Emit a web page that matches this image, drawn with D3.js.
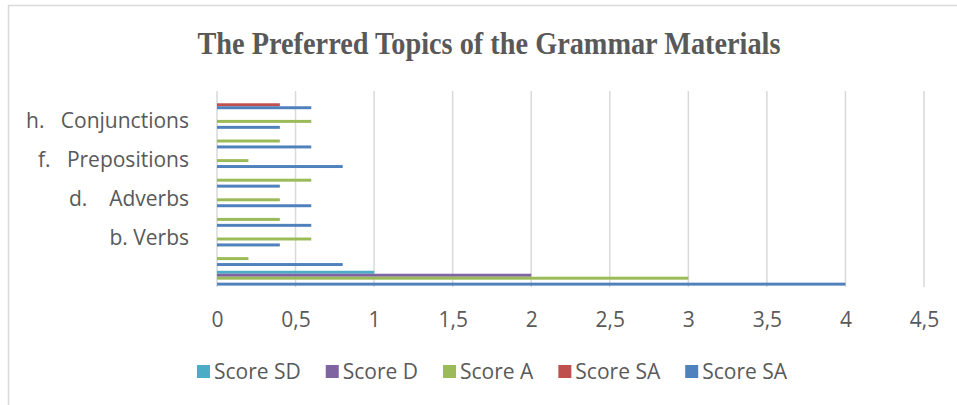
<!DOCTYPE html>
<html>
<head>
<meta charset="utf-8">
<script src="https://cdn.jsdelivr.net/npm/d3@7"></script>
<style>
  html, body { margin: 0; padding: 0; background: #fff; }
  svg { display: block; }
  text { font-family: "Open Sans", sans-serif; fill: #595959; }
</style>
</head>
<body>
<div id="chart"></div>
<script>
// categories bottom -> top (Excel only shows every other label)
const CATEGORIES = ["", "a. Nouns", "b. Verbs", "c. Adjectives", "d.    Adverbs", "e. Pronouns",
                    "f.   Prepositions", "g. Articles", "h.   Conjunctions", "i. Interjections"];
const SERIES = ["SD", "D", "A", "SA1", "SA2"];
const SERIES_LABELS = ["Score SD", "Score D", "Score A", "Score SA", "Score SA"];
const SERIES_COLORS = ["#4BACC6", "#8064A2", "#9BBB59", "#C0504D", "#4F81BD"];

const scoreSD  = [1, 0, 0, 0, 0, 0, 0, 0, 0, 0];
const scoreD   = [2, 0, 0, 0, 0, 0, 0, 0, 0, 0];
const scoreA   = [3, 0.2, 0.6, 0.4, 0.4, 0.6, 0.2, 0.4, 0.6, 0];
const scoreSA1 = [0, 0, 0, 0, 0, 0, 0, 0, 0, 0.4];
const scoreSA2 = [4, 0.8, 0.4, 0.6, 0.6, 0.4, 0.8, 0.6, 0.4, 0.6];

const X_TICKS = [0, 0.5, 1, 1.5, 2, 2.5, 3, 3.5, 4, 4.5];
const TITLE = "The Preferred Topics of the Grammar Materials";

const values = { SD: scoreSD, D: scoreD, A: scoreA, SA1: scoreSA1, SA2: scoreSA2 };
const rows = CATEGORIES.map((c, i) => ({ category: c, idx: i, ...Object.fromEntries(SERIES.map(s => [s, values[s][i]])) }));

const width = 957, height = 405;
const FS = "21px";
const svg = d3.select("#chart").append("svg").attr("width", width).attr("height", height);

// chart frame
svg.append("rect").attr("x", 8.5).attr("y", 5.5).attr("width", 1000).attr("height", 500)
  .attr("fill", "#fff").attr("stroke", "#d9d9d9").attr("stroke-width", 1.5);

svg.append("text").attr("x", 489).attr("y", 54).attr("text-anchor", "middle")
  .attr("textLength", 583).attr("lengthAdjust", "spacingAndGlyphs")
  .style("font-family", "'Liberation Serif', serif").style("font-weight", "bold")
  .style("font-size", "31px").text(TITLE);

const x = d3.scaleLinear().domain([0, 4.5]).range([217, 924]);
const y0 = d3.scaleBand().domain(d3.range(CATEGORIES.length)).range([288, 92]);
const y1 = d3.scaleBand().domain(SERIES).range([0, y0.bandwidth()]).paddingOuter(0.8);
const color = d3.scaleOrdinal().domain(SERIES).range(SERIES_COLORS);

// gridlines
svg.append("g").selectAll("line").data(X_TICKS).join("line")
  .attr("x1", d => x(d)).attr("x2", d => x(d)).attr("y1", 91).attr("y2", 287)
  .attr("stroke", "#d9d9d9").attr("stroke-width", 1.5);

// bars
const groups = svg.append("g").selectAll("g").data(rows).join("g")
  .attr("transform", d => `translate(0,${y0(d.idx)})`);
groups.selectAll("rect").data(d => SERIES.map(s => ({ key: s, value: d[s] })).filter(v => v.value > 0))
  .join("rect")
  .attr("x", x(0)).attr("y", d => y1(d.key))
  .attr("width", d => x(d.value) - x(0)).attr("height", y1.bandwidth())
  .attr("fill", d => color(d.key));

// x axis
const xAxis = svg.append("g").attr("transform", "translate(0,309)")
  .call(d3.axisBottom(x).tickValues(X_TICKS).tickSize(0).tickFormat(d => String(d).replace(".", ",")));
xAxis.select(".domain").remove();
xAxis.selectAll("text").style("font-size", FS).style("fill", "#595959").style("font-family", "'Open Sans', sans-serif");

// category axis (every other label)
const yAxis = svg.append("g").attr("transform", "translate(189,0)")
  .call(d3.axisLeft(y0).tickSize(0).tickFormat(i => i % 2 === 0 ? CATEGORIES[i] : ""));
yAxis.select(".domain").remove();
yAxis.selectAll("text").attr("x", 0).attr("dy", "0.3em").style("font-size", FS).style("white-space", "pre")
  .style("fill", "#595959").style("font-family", "'Open Sans', sans-serif");

// legend
const legend = svg.append("g").attr("transform", "translate(0,372)");
const items = legend.selectAll("g").data(SERIES).join("g");
items.append("rect").attr("y", -7).attr("width", 13).attr("height", 13).attr("fill", d => color(d));
items.append("text").attr("x", 17).attr("dy", "0.35em").style("font-size", FS)
  .text((d, i) => SERIES_LABELS[i]);
let cx = 0;
const offsets = [];
items.each(function () {
  offsets.push(cx);
  cx += 17 + this.querySelector("text").getComputedTextLength() + 25;
});
const total = cx - 25;
const start = 492 - total / 2;
items.attr("transform", (d, i) => `translate(${start + offsets[i]},0)`);
</script>
</body>
</html>
